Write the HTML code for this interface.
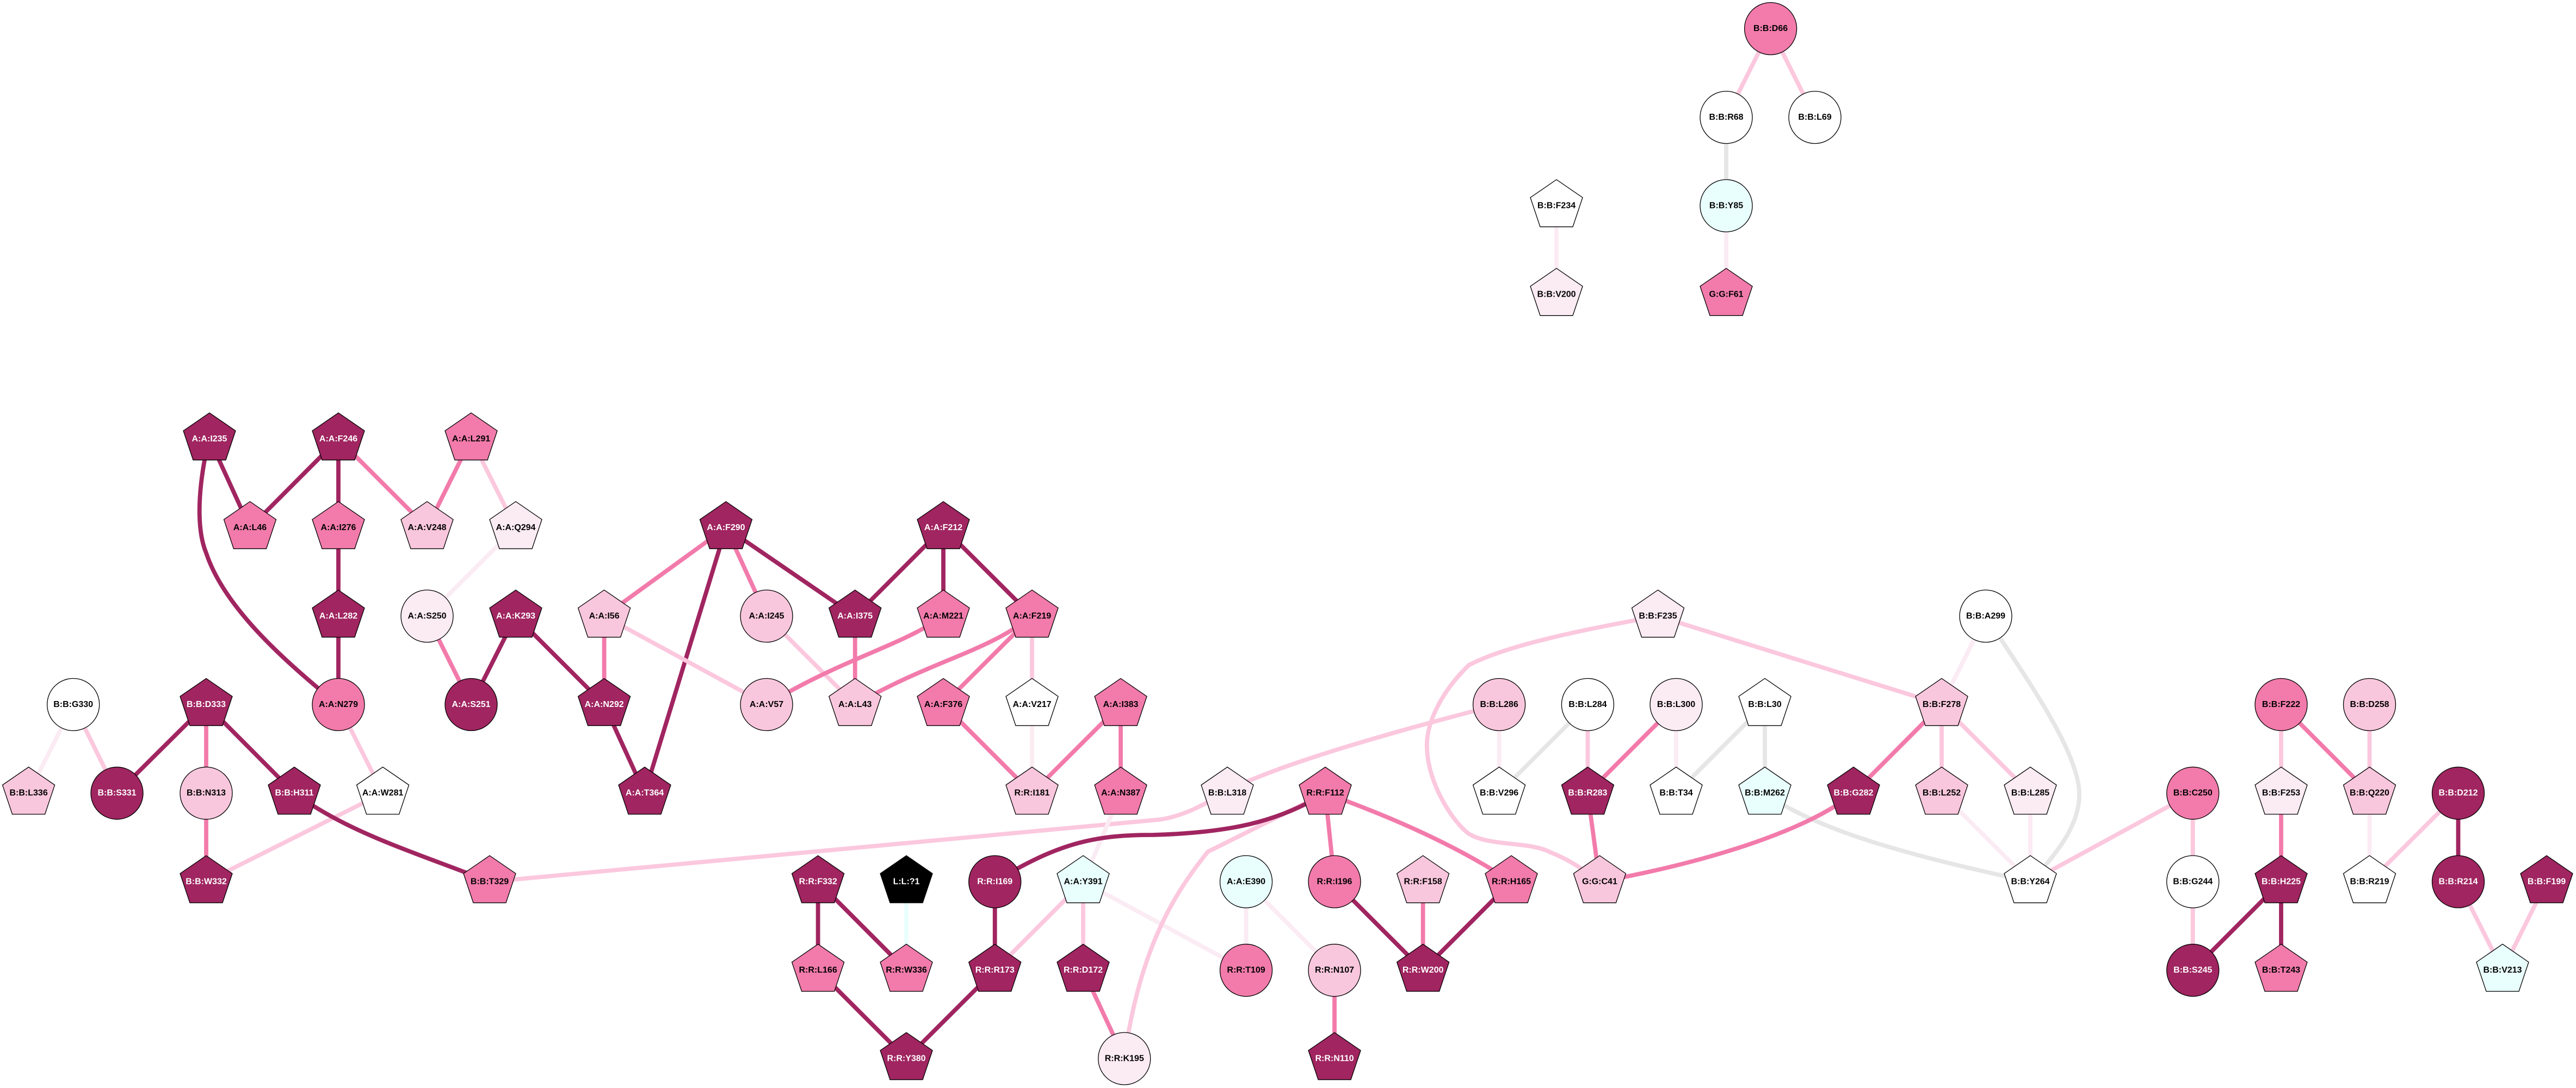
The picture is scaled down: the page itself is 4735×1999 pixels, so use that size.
<!DOCTYPE html>
<html><head><meta charset="utf-8"><style>
html,body{margin:0;padding:0;background:#fff}
svg{display:block}
text{font-family:"Liberation Sans",Arial,sans-serif;font-weight:bold;font-size:16px;text-anchor:middle;fill:#000}
.e path,.e line{fill:none;stroke-width:7.8}
.D{stroke:#a02560}.P{stroke:#f27bab}.L{stroke:#fbc8de}.V{stroke:#fbebf3}.G{stroke:#e6e6e6}.C{stroke:#e9fffe}
.n>*{stroke:#000;stroke-width:1.3}
.n>text{stroke:none}
.d{fill:#a02560}.p{fill:#f27bab}.l{fill:#f9c7dd}.v{fill:#fbebf3}.w{fill:#fff}.c{fill:#e9fffe}.k{fill:#000}
text.t{fill:#fff}
</style></head><body>
<svg xmlns="http://www.w3.org/2000/svg" width="4735" height="1999" viewBox="0 0 4735 1999">
<rect width="4735" height="1999" fill="#fff"/>
<g class="e">
<!-- component: top -->
<line class="L" x1="3254.6" y1="52.6" x2="3173" y2="215.6"/>
<line class="L" x1="3254.6" y1="52.6" x2="3336" y2="215.6"/>
<line class="G" x1="3173" y1="215.6" x2="3173" y2="378"/>
<line class="V" x1="3173" y1="378" x2="3173" y2="541"/>
<line class="V" x1="2861" y1="378" x2="2861" y2="541"/>
<!-- left -->
<line class="D" x1="385" y1="806.5" x2="459.5" y2="969.5"/>
<line class="D" x1="622" y1="806.5" x2="459.5" y2="969.5"/>
<line class="D" x1="622" y1="806.5" x2="622" y2="969.5"/>
<line class="P" x1="622" y1="806.5" x2="785" y2="969.5"/>
<line class="P" x1="866" y1="806.5" x2="785" y2="969.5"/>
<line class="L" x1="866" y1="806.5" x2="948" y2="969.5"/>
<line class="D" x1="622" y1="969.5" x2="622" y2="1132"/>
<line class="D" x1="622" y1="1132" x2="622" y2="1294.5"/>
<line class="V" x1="948" y1="969.5" x2="785" y2="1132"/>
<line class="P" x1="785" y1="1132" x2="866" y2="1294.5"/>
<line class="D" x1="948" y1="1132" x2="866" y2="1294.5"/>
<line class="D" x1="948" y1="1132" x2="1110.6" y2="1294.5"/>
<path class="D" d="M377 840C362 920 364 980 379 1016C410 1110 510 1205 622 1295"/>
<line class="L" x1="622" y1="1294.5" x2="703.6" y2="1457.3"/>
<line class="L" x1="703.6" y1="1457.3" x2="379" y2="1620"/>
<line class="V" x1="134.7" y1="1294.5" x2="52.6" y2="1457.3"/>
<line class="L" x1="134.7" y1="1294.5" x2="215" y2="1457.3"/>
<line class="D" x1="379" y1="1294.5" x2="215" y2="1457.3"/>
<line class="P" x1="379" y1="1294.5" x2="379" y2="1457.3"/>
<line class="D" x1="379" y1="1294.5" x2="541" y2="1457.3"/>
<line class="P" x1="379" y1="1457.3" x2="379" y2="1620"/>
<path class="D" d="M541 1457C640 1530 760 1565 900 1620"/>
<path class="L" d="M900 1620L2130 1506C2175 1500 2215 1478 2256 1453C2330 1415 2480 1365 2755.6 1294.5"/>
<!-- middle A -->
<line class="P" x1="1334.4" y1="969.5" x2="1110.6" y2="1132"/>
<line class="P" x1="1334.4" y1="969.5" x2="1409" y2="1132"/>
<line class="D" x1="1334.4" y1="969.5" x2="1571.7" y2="1132"/>
<line class="D" x1="1334.4" y1="969.5" x2="1185" y2="1457.3"/>
<line class="D" x1="1734" y1="969.5" x2="1571.7" y2="1132"/>
<line class="D" x1="1734" y1="969.5" x2="1734" y2="1132"/>
<line class="D" x1="1734" y1="969.5" x2="1897" y2="1132"/>
<line class="P" x1="1110.6" y1="1132" x2="1110.6" y2="1294.5"/>
<line class="L" x1="1110.6" y1="1132" x2="1409" y2="1294.5"/>
<line class="L" x1="1409" y1="1132" x2="1571.7" y2="1294.5"/>
<line class="P" x1="1571.7" y1="1132" x2="1571.7" y2="1294.5"/>
<path class="P" d="M1734 1132C1650 1190 1560 1205 1409 1294.5"/>
<path class="P" d="M1897 1132C1810 1200 1720 1210 1571.7 1294.5"/>
<line class="P" x1="1897" y1="1132" x2="1734" y2="1294.5"/>
<line class="L" x1="1897" y1="1132" x2="1897" y2="1294.5"/>
<line class="P" x1="1734" y1="1294.5" x2="1897" y2="1457.3"/>
<line class="V" x1="1897" y1="1294.5" x2="1897" y2="1457.3"/>
<line class="P" x1="2060" y1="1294.5" x2="1897" y2="1457.3"/>
<line class="P" x1="2060" y1="1294.5" x2="2060" y2="1457.3"/>
<line class="D" x1="1110.6" y1="1294.5" x2="1185" y2="1457.3"/>
<line class="V" x1="2060" y1="1457.3" x2="1991" y2="1620"/>
<!-- R -->
<line class="D" x1="1503.6" y1="1620" x2="1503.6" y2="1782.7"/>
<line class="D" x1="1503.6" y1="1620" x2="1666" y2="1782.7"/>
<line class="C" x1="1666" y1="1620" x2="1666" y2="1782.7"/>
<line class="D" x1="1828.7" y1="1620" x2="1828.7" y2="1782.7"/>
<line class="L" x1="1991" y1="1620" x2="1828.7" y2="1782.7"/>
<line class="L" x1="1991" y1="1620" x2="1991" y2="1782.7"/>
<line class="V" x1="1991" y1="1620" x2="2290.5" y2="1782.7"/>
<line class="V" x1="2290.5" y1="1620" x2="2290.5" y2="1782.7"/>
<line class="V" x1="2290.5" y1="1620" x2="2453" y2="1782.7"/>
<line class="P" x1="2453" y1="1782.7" x2="2453" y2="1945"/>
<line class="D" x1="2453" y1="1620" x2="2615.6" y2="1782.7"/>
<line class="P" x1="2615.6" y1="1620" x2="2615.6" y2="1782.7"/>
<line class="D" x1="2778" y1="1620" x2="2615.6" y2="1782.7"/>
<line class="P" x1="2436" y1="1457.3" x2="2453" y2="1620"/>
<path class="P" d="M2436 1457.3C2540 1495 2666 1546 2778 1620"/>
<path class="L" d="M2436 1457.3L2220 1565C2160 1640 2095 1740 2066.7 1945"/>
<path class="D" d="M2436 1457.3C2350 1510 2260 1530 2120 1534C2020 1534 1950 1545 1828.7 1620"/>
<line class="D" x1="1503.6" y1="1782.7" x2="1666" y2="1945"/>
<line class="D" x1="1828.7" y1="1782.7" x2="1666" y2="1945"/>
<line class="P" x1="1991" y1="1782.7" x2="2066.7" y2="1945"/>
<!-- B -->
<line class="L" x1="3047.5" y1="1132" x2="3569" y2="1294.5"/>
<path class="L" d="M3047.5 1132C2950 1150 2780 1180 2700 1222C2650 1270 2620 1330 2623 1375C2625 1440 2670 1510 2700 1532C2740 1556 2810 1545 2850 1566C2880 1578 2900 1590 2940.4 1620"/>
<line class="V" x1="3650" y1="1132" x2="3569" y2="1294.5"/>
<path class="G" d="M3650 1132C3720 1240 3822 1380 3822 1460C3822 1510 3790 1560 3732 1620"/>
<line class="V" x1="2755.6" y1="1294.5" x2="2755.6" y2="1457.3"/>
<line class="G" x1="2918.4" y1="1294.5" x2="2755.6" y2="1457.3"/>
<line class="L" x1="2918.4" y1="1294.5" x2="2918.4" y2="1457.3"/>
<line class="P" x1="3081" y1="1294.5" x2="2918.4" y2="1457.3"/>
<line class="V" x1="3081" y1="1294.5" x2="3081" y2="1457.3"/>
<line class="G" x1="3244" y1="1294.5" x2="3081" y2="1457.3"/>
<line class="G" x1="3244" y1="1294.5" x2="3244" y2="1457.3"/>
<line class="P" x1="3569" y1="1294.5" x2="3407" y2="1457.3"/>
<line class="L" x1="3569" y1="1294.5" x2="3569" y2="1457.3"/>
<line class="L" x1="3569" y1="1294.5" x2="3732" y2="1457.3"/>
<line class="V" x1="3569" y1="1457.3" x2="3732" y2="1620"/>
<line class="V" x1="3732" y1="1457.3" x2="3732" y2="1620"/>
<line class="P" x1="2918.4" y1="1457.3" x2="2940.4" y2="1620"/>
<path class="G" d="M3244 1457.3C3340 1525 3500 1570 3732 1620"/>
<path class="P" d="M3407 1457.3C3330 1520 3160 1580 2940.4 1620"/>
<line class="L" x1="4030.7" y1="1457.3" x2="3732" y2="1620"/>
<line class="L" x1="4030.7" y1="1457.3" x2="4030.7" y2="1620"/>
<line class="L" x1="4030.7" y1="1620" x2="4030.7" y2="1782.7"/>
<line class="L" x1="4193" y1="1294.5" x2="4193" y2="1457.3"/>
<line class="P" x1="4193" y1="1294.5" x2="4355.5" y2="1457.3"/>
<line class="L" x1="4355.5" y1="1294.5" x2="4355.5" y2="1457.3"/>
<line class="P" x1="4193" y1="1457.3" x2="4193" y2="1620"/>
<line class="V" x1="4355.5" y1="1457.3" x2="4355.5" y2="1620"/>
<line class="L" x1="4518.5" y1="1457.3" x2="4355.5" y2="1620"/>
<line class="D" x1="4518.5" y1="1457.3" x2="4518.5" y2="1620"/>
<line class="D" x1="4193" y1="1620" x2="4030.7" y2="1782.7"/>
<line class="D" x1="4193" y1="1620" x2="4193" y2="1782.7"/>
<line class="L" x1="4518.5" y1="1620" x2="4600" y2="1782.7"/>
<line class="L" x1="4681" y1="1620" x2="4600" y2="1782.7"/>
</g>
<defs>
<path id="pg" d="M0-48L48-15 30 38.7H-30L-48-15Z"/>
</defs>

<!-- Nodes: circle = ellipse r48, pentagon = path -->
<g transform="translate(3254.6,52.6)" class="n"><circle r="48" class="p"/><text y="4.4">B:B:D66</text></g>
<g transform="translate(3173,215.6)" class="n"><circle r="48" class="w"/><text y="4.4">B:B:R68</text></g>
<g transform="translate(3336,215.6)" class="n"><circle r="48" class="w"/><text y="4.4">B:B:L69</text></g>
<g transform="translate(3173,378)" class="n"><circle r="48" class="c"/><text y="4.4">B:B:Y85</text></g>
<g transform="translate(3173,541)" class="n"><use href="#pg" class="p"/><text y="4.4">G:G:F61</text></g>
<g transform="translate(2861,378)" class="n"><use href="#pg" class="w"/><text y="4.4">B:B:F234</text></g>
<g transform="translate(2861,541)" class="n"><use href="#pg" class="v"/><text y="4.4">B:B:V200</text></g>

<g transform="translate(385,806.5)" class="n"><use href="#pg" class="d"/><text class="t" y="4.4">A:A:I235</text></g>
<g transform="translate(622,806.5)" class="n"><use href="#pg" class="d"/><text class="t" y="4.4">A:A:F246</text></g>
<g transform="translate(866,806.5)" class="n"><use href="#pg" class="p"/><text y="4.4">A:A:L291</text></g>
<g transform="translate(459.5,969.5)" class="n"><use href="#pg" class="p"/><text y="4.4">A:A:L46</text></g>
<g transform="translate(622,969.5)" class="n"><use href="#pg" class="p"/><text y="4.4">A:A:I276</text></g>
<g transform="translate(785,969.5)" class="n"><use href="#pg" class="l"/><text y="4.4">A:A:V248</text></g>
<g transform="translate(948,969.5)" class="n"><use href="#pg" class="v"/><text y="4.4">A:A:Q294</text></g>
<g transform="translate(622,1132)" class="n"><use href="#pg" class="d"/><text class="t" y="4.4">A:A:L282</text></g>
<g transform="translate(785,1132)" class="n"><circle r="48" class="v"/><text y="4.4">A:A:S250</text></g>
<g transform="translate(948,1132)" class="n"><use href="#pg" class="d"/><text class="t" y="4.4">A:A:K293</text></g>
<g transform="translate(134.7,1294.5)" class="n"><circle r="48" class="w"/><text y="4.4">B:B:G330</text></g>
<g transform="translate(379,1294.5)" class="n"><use href="#pg" class="d"/><text class="t" y="4.4">B:B:D333</text></g>
<g transform="translate(622,1294.5)" class="n"><circle r="48" class="p"/><text y="4.4">A:A:N279</text></g>
<g transform="translate(866,1294.5)" class="n"><circle r="48" class="d"/><text class="t" y="4.4">A:A:S251</text></g>
<g transform="translate(52.6,1457.3)" class="n"><use href="#pg" class="l"/><text y="4.4">B:B:L336</text></g>
<g transform="translate(215,1457.3)" class="n"><circle r="48" class="d"/><text class="t" y="4.4">B:B:S331</text></g>
<g transform="translate(379,1457.3)" class="n"><circle r="48" class="l"/><text y="4.4">B:B:N313</text></g>
<g transform="translate(541,1457.3)" class="n"><use href="#pg" class="d"/><text class="t" y="4.4">B:B:H311</text></g>
<g transform="translate(703.6,1457.3)" class="n"><use href="#pg" class="w"/><text y="4.4">A:A:W281</text></g>
<g transform="translate(379,1620)" class="n"><use href="#pg" class="d"/><text class="t" y="4.4">B:B:W332</text></g>
<g transform="translate(900,1620)" class="n"><use href="#pg" class="p"/><text y="4.4">B:B:T329</text></g>

<g transform="translate(1334.4,969.5)" class="n"><use href="#pg" class="d"/><text class="t" y="4.4">A:A:F290</text></g>
<g transform="translate(1734,969.5)" class="n"><use href="#pg" class="d"/><text class="t" y="4.4">A:A:F212</text></g>
<g transform="translate(1110.6,1132)" class="n"><use href="#pg" class="l"/><text y="4.4">A:A:I56</text></g>
<g transform="translate(1409,1132)" class="n"><circle r="48" class="l"/><text y="4.4">A:A:I245</text></g>
<g transform="translate(1571.7,1132)" class="n"><use href="#pg" class="d"/><text class="t" y="4.4">A:A:I375</text></g>
<g transform="translate(1734,1132)" class="n"><use href="#pg" class="p"/><text y="4.4">A:A:M221</text></g>
<g transform="translate(1897,1132)" class="n"><use href="#pg" class="p"/><text y="4.4">A:A:F219</text></g>
<g transform="translate(1110.6,1294.5)" class="n"><use href="#pg" class="d"/><text class="t" y="4.4">A:A:N292</text></g>
<g transform="translate(1409,1294.5)" class="n"><circle r="48" class="l"/><text y="4.4">A:A:V57</text></g>
<g transform="translate(1571.7,1294.5)" class="n"><use href="#pg" class="l"/><text y="4.4">A:A:L43</text></g>
<g transform="translate(1734,1294.5)" class="n"><use href="#pg" class="p"/><text y="4.4">A:A:F376</text></g>
<g transform="translate(1897,1294.5)" class="n"><use href="#pg" class="w"/><text y="4.4">A:A:V217</text></g>
<g transform="translate(2060,1294.5)" class="n"><use href="#pg" class="p"/><text y="4.4">A:A:I383</text></g>
<g transform="translate(1185,1457.3)" class="n"><use href="#pg" class="d"/><text class="t" y="4.4">A:A:T364</text></g>
<g transform="translate(1897,1457.3)" class="n"><use href="#pg" class="l"/><text y="4.4">R:R:I181</text></g>
<g transform="translate(2060,1457.3)" class="n"><use href="#pg" class="p"/><text y="4.4">A:A:N387</text></g>

<g transform="translate(2256,1457.3)" class="n"><use href="#pg" class="v"/><text y="4.4">B:B:L318</text></g>
<g transform="translate(2436,1457.3)" class="n"><use href="#pg" class="p"/><text y="4.4">R:R:F112</text></g>
<g transform="translate(1503.6,1620)" class="n"><use href="#pg" class="d"/><text class="t" y="4.4">R:R:F332</text></g>
<g transform="translate(1666,1620)" class="n"><use href="#pg" class="k"/><text class="t" y="4.4">L:L:?1</text></g>
<g transform="translate(1828.7,1620)" class="n"><circle r="48" class="d"/><text class="t" y="4.4">R:R:I169</text></g>
<g transform="translate(1991,1620)" class="n"><use href="#pg" class="c"/><text y="4.4">A:A:Y391</text></g>
<g transform="translate(2290.5,1620)" class="n"><circle r="48" class="c"/><text y="4.4">A:A:E390</text></g>
<g transform="translate(2453,1620)" class="n"><circle r="48" class="p"/><text y="4.4">R:R:I196</text></g>
<g transform="translate(2615.6,1620)" class="n"><use href="#pg" class="l"/><text y="4.4">R:R:F158</text></g>
<g transform="translate(2778,1620)" class="n"><use href="#pg" class="p"/><text y="4.4">R:R:H165</text></g>
<g transform="translate(1503.6,1782.7)" class="n"><use href="#pg" class="p"/><text y="4.4">R:R:L166</text></g>
<g transform="translate(1666,1782.7)" class="n"><use href="#pg" class="p"/><text y="4.4">R:R:W336</text></g>
<g transform="translate(1828.7,1782.7)" class="n"><use href="#pg" class="d"/><text class="t" y="4.4">R:R:R173</text></g>
<g transform="translate(1991,1782.7)" class="n"><use href="#pg" class="d"/><text class="t" y="4.4">R:R:D172</text></g>
<g transform="translate(2290.5,1782.7)" class="n"><circle r="48" class="p"/><text y="4.4">R:R:T109</text></g>
<g transform="translate(2453,1782.7)" class="n"><circle r="48" class="l"/><text y="4.4">R:R:N107</text></g>
<g transform="translate(2615.6,1782.7)" class="n"><use href="#pg" class="d"/><text class="t" y="4.4">R:R:W200</text></g>
<g transform="translate(1666,1945)" class="n"><use href="#pg" class="d"/><text class="t" y="4.4">R:R:Y380</text></g>
<g transform="translate(2066.7,1945)" class="n"><circle r="48" class="v"/><text y="4.4">R:R:K195</text></g>
<g transform="translate(2453,1945)" class="n"><use href="#pg" class="d"/><text class="t" y="4.4">R:R:N110</text></g>

<g transform="translate(3047.5,1132)" class="n"><use href="#pg" class="v"/><text y="4.4">B:B:F235</text></g>
<g transform="translate(3650,1132)" class="n"><circle r="48" class="w"/><text y="4.4">B:B:A299</text></g>
<g transform="translate(2755.6,1294.5)" class="n"><circle r="48" class="l"/><text y="4.4">B:B:L286</text></g>
<g transform="translate(2918.4,1294.5)" class="n"><circle r="48" class="w"/><text y="4.4">B:B:L284</text></g>
<g transform="translate(3081,1294.5)" class="n"><circle r="48" class="v"/><text y="4.4">B:B:L300</text></g>
<g transform="translate(3244,1294.5)" class="n"><use href="#pg" class="w"/><text y="4.4">B:B:L30</text></g>
<g transform="translate(3569,1294.5)" class="n"><use href="#pg" class="l"/><text y="4.4">B:B:F278</text></g>
<g transform="translate(2755.6,1457.3)" class="n"><use href="#pg" class="w"/><text y="4.4">B:B:V296</text></g>
<g transform="translate(2918.4,1457.3)" class="n"><use href="#pg" class="d"/><text class="t" y="4.4">B:B:R283</text></g>
<g transform="translate(3081,1457.3)" class="n"><use href="#pg" class="w"/><text y="4.4">B:B:T34</text></g>
<g transform="translate(3244,1457.3)" class="n"><use href="#pg" class="c"/><text y="4.4">B:B:M262</text></g>
<g transform="translate(3407,1457.3)" class="n"><use href="#pg" class="d"/><text class="t" y="4.4">B:B:G282</text></g>
<g transform="translate(3569,1457.3)" class="n"><use href="#pg" class="l"/><text y="4.4">B:B:L252</text></g>
<g transform="translate(3732,1457.3)" class="n"><use href="#pg" class="v"/><text y="4.4">B:B:L285</text></g>
<g transform="translate(2940.4,1620)" class="n"><use href="#pg" class="l"/><text y="4.4">G:G:C41</text></g>
<g transform="translate(3732,1620)" class="n"><use href="#pg" class="w"/><text y="4.4">B:B:Y264</text></g>

<g transform="translate(4193,1294.5)" class="n"><circle r="48" class="p"/><text y="4.4">B:B:F222</text></g>
<g transform="translate(4355.5,1294.5)" class="n"><circle r="48" class="l"/><text y="4.4">B:B:D258</text></g>
<g transform="translate(4030.7,1457.3)" class="n"><circle r="48" class="p"/><text y="4.4">B:B:C250</text></g>
<g transform="translate(4193,1457.3)" class="n"><use href="#pg" class="v"/><text y="4.4">B:B:F253</text></g>
<g transform="translate(4355.5,1457.3)" class="n"><use href="#pg" class="l"/><text y="4.4">B:B:Q220</text></g>
<g transform="translate(4518.5,1457.3)" class="n"><circle r="48" class="d"/><text class="t" y="4.4">B:B:D212</text></g>
<g transform="translate(4030.7,1620)" class="n"><circle r="48" class="w"/><text y="4.4">B:B:G244</text></g>
<g transform="translate(4193,1620)" class="n"><use href="#pg" class="d"/><text class="t" y="4.4">B:B:H225</text></g>
<g transform="translate(4355.5,1620)" class="n"><use href="#pg" class="w"/><text y="4.4">B:B:R219</text></g>
<g transform="translate(4518.5,1620)" class="n"><circle r="48" class="d"/><text class="t" y="4.4">B:B:R214</text></g>
<g transform="translate(4681,1620)" class="n"><use href="#pg" class="d"/><text class="t" y="4.4">B:B:F199</text></g>
<g transform="translate(4030.7,1782.7)" class="n"><circle r="48" class="d"/><text class="t" y="4.4">B:B:S245</text></g>
<g transform="translate(4193,1782.7)" class="n"><use href="#pg" class="p"/><text y="4.4">B:B:T243</text></g>
<g transform="translate(4600,1782.7)" class="n"><use href="#pg" class="c"/><text y="4.4">B:B:V213</text></g>
</svg>
</body></html>
